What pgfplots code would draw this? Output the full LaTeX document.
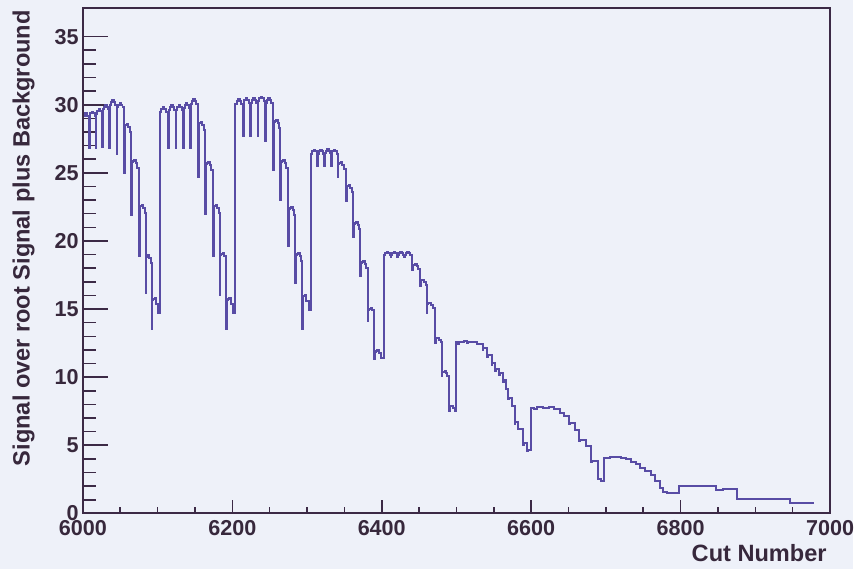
\documentclass[border=0pt]{standalone}
\usepackage{pgfplots}
\pgfplotsset{compat=1.18}
\usepackage{fontspec}
\setmainfont{Liberation Sans}
\definecolor{bgc}{RGB}{238,241,249}
\definecolor{linec}{RGB}{88,76,165}
\definecolor{framec}{RGB}{60,42,70}
\definecolor{textc}{RGB}{55,40,60}
\begin{document}
\begin{tikzpicture}
\fill[bgc] (-41.5pt,-28pt) rectangle (385.5pt,257pt);
\begin{axis}[
  at={(0,0)}, anchor=south west,
  width=374pt, height=253pt, scale only axis,
  xmin=6000, xmax=7000, ymin=0, ymax=37.1,
  axis line style={framec, line width=1.1pt},
  xtick=\empty,
  ytick={0,5,10,15,20,25,30,35},
  yticklabels={0,5,10,15,20,25,30,35},
  minor y tick num=4,
  tick pos=left, tick align=inside,
  major tick length=12.5pt, minor tick length=6.5pt,
  every tick/.style={framec, line width=0.8pt},
  yticklabel style={font=\fontsize{10.8}{12}\selectfont\bfseries, text=textc, inner sep=0pt, xshift=-2pt},
  scaled ticks=false,
  no marks,
]
\addplot[const plot, linec, line width=1pt] coordinates {
(6000,29.2) (6003,29.4) (6006,29.2)
(6008,26.8) (6009,29.15) (6010,29.36) (6012,29.5) (6014,29.36) (6016,29.15)
(6017,26.8) (6018,29.35) (6019,29.56) (6021,29.7) (6023,29.56) (6025,29.35)
(6026,26.9) (6027,29.65) (6028,29.86) (6030,30.0) (6032,29.86) (6034,29.65)
(6035,26.8) (6036,30.0) (6037,30.21) (6039,30.35) (6041,30.21) (6043,30.0)
(6045,26.4) (6046,29.8) (6047,30.01) (6049,30.15) (6051,30.01) (6053,29.8)
(6055,25.0) (6056,28.45) (6057,28.54) (6059,28.6) (6061,28.36) (6063,28.0)
(6065,21.9) (6066,25.8) (6067,25.89) (6069,25.95) (6071,25.71) (6073,25.35)
(6075,18.9) (6076,22.5) (6077,22.59) (6079,22.65) (6081,22.41) (6083,22.05)
(6084,16.2) (6085,18.85) (6086,18.94) (6088,19.0) (6089,18.76) (6091,18.4)
(6092,13.5) (6093,15.65) (6094,15.74) (6096,15.8) (6098,15.36) (6100,14.7)
(6103,29.45) (6105,29.66) (6107,29.8) (6109,29.66) (6111,29.45)
(6114,26.8) (6115,29.6) (6116,29.81) (6118,29.95) (6120,29.81) (6122,29.6)
(6124,26.8) (6125,29.6) (6126,29.81) (6128,29.95) (6130,29.81) (6132,29.6)
(6134,26.8) (6135,29.75) (6136,29.96) (6138,30.1) (6140,29.96) (6142,29.75)
(6144,26.8) (6145,30.05) (6146,30.26) (6148,30.4) (6150,30.26) (6152,30.05)
(6154,24.7) (6155,28.6) (6156,28.69) (6158,28.75) (6160,28.51) (6162,28.15)
(6164,22.0) (6165,25.65) (6166,25.74) (6168,25.8) (6170,25.56) (6172,25.2)
(6174,18.9) (6175,22.5) (6176,22.59) (6178,22.65) (6180,22.41) (6182,22.05)
(6183,16.05) (6184,18.95) (6185,19.04) (6187,19.1) (6189,18.86) (6191,18.5)
(6192,13.5) (6193,15.65) (6194,15.74) (6196,15.8) (6198,15.36) (6201,14.7)
(6204,30.05) (6206,30.26) (6208,30.4) (6210,30.26) (6212,30.05)
(6214,27.7) (6215,30.15) (6216,30.36) (6218,30.5) (6220,30.36) (6222,30.15)
(6224,27.7) (6225,30.15) (6226,30.36) (6228,30.5) (6230,30.36) (6232,30.15)
(6234,27.7) (6235,30.25) (6236,30.46) (6238,30.6) (6240,30.46) (6242,30.25)
(6244,27.3) (6245,30.15) (6246,30.36) (6248,30.5) (6250,30.36) (6252,30.15)
(6255,25.2) (6256,28.75) (6257,28.84) (6259,28.9) (6261,28.66) (6263,28.3)
(6264,23.0) (6265,25.8) (6266,25.89) (6268,25.95) (6270,25.71) (6272,25.35)
(6275,19.6) (6276,22.35) (6277,22.44) (6279,22.5) (6281,22.26) (6283,21.9)
(6284,16.9) (6285,18.95) (6286,19.04) (6288,19.1) (6290,18.86) (6292,18.5)
(6293,13.5) (6294,15.9) (6295,15.99) (6297,16.05) (6299,15.61) (6302,14.95)
(6305,26.4) (6307,26.58) (6309,26.7) (6311,26.58) (6313,26.4)
(6314,25.5) (6315,26.4) (6316,26.58) (6318,26.7) (6320,26.58) (6322,26.4)
(6323,25.5) (6324,26.45) (6325,26.63) (6327,26.75) (6329,26.63) (6331,26.45)
(6332,25.5) (6333,26.4) (6334,26.58) (6336,26.7) (6338,26.58) (6340,26.4)
(6341,24.7) (6342,25.65) (6343,25.74) (6345,25.8) (6347,25.6) (6349,25.3)
(6352,22.9) (6353,23.95) (6354,24.04) (6356,24.1) (6358,23.9) (6360,23.6)
(6362,20.3) (6363,21.25) (6364,21.34) (6366,21.4) (6368,21.2) (6370,20.9)
(6371,17.4) (6372,18.35) (6373,18.44) (6375,18.5) (6377,18.3) (6379,18.0)
(6381,14.1) (6382,14.95) (6383,15.04) (6385,15.1) (6387,14.9) (6389,14.6)
(6390,11.3) (6391,11.85) (6392,11.94) (6394,12.0) (6396,11.76) (6399,11.4)
(6403,19.0) (6405,19.12) (6407,19.2) (6409,19.12) (6411,19.0)
(6412,18.85) (6413,19.0) (6414,19.12) (6416,19.2) (6418,19.12) (6420,19.0)
(6421,18.85) (6422,19.0) (6423,19.12) (6425,19.2) (6427,19.12) (6429,19.0)
(6430,18.85) (6431,19.0) (6432,19.12) (6434,19.2) (6436,19.12) (6438,19.0)
(6441,17.9) (6442,18.2) (6443,18.26) (6445,18.3) (6447,18.16) (6449,17.95)
(6451,16.7) (6452,17.05) (6453,17.11) (6455,17.15) (6457,17.01) (6459,16.8)
(6460,14.7) (6461,15.35) (6462,15.41) (6464,15.45) (6466,15.31) (6468,15.1)
(6471,12.5) (6472,12.8) (6473,12.86) (6475,12.9) (6477,12.76) (6479,12.55)
(6480,10.1) (6481,10.35) (6482,10.41) (6484,10.45) (6486,10.31) (6488,10.1)
(6490,7.55) (6491,7.8) (6492,7.86) (6494,7.9) (6496,7.76) (6498,7.55)
(6500,12.55) (6502,12.45) (6504,12.6) (6510,12.65) (6514,12.5) (6516,12.6) (6522,12.55) (6527,12.4) (6530,12.45)
(6535,12.0) (6536,12.15) (6541,11.5) (6542,11.65) (6547,10.9) (6548,11.05) (6552,10.45) (6553,10.6)
(6557,10.15) (6558,10.3) (6562,9.65) (6563,9.8) (6566,9.1) (6569,8.4) (6570,8.5) (6574,7.9)
(6578,6.55) (6579,6.7) (6583,6.2) (6589,5.05) (6590,5.2) (6595,4.55) (6596,4.65)
(6600,7.75) (6604,7.7) (6608,7.8) (6616,7.75) (6624,7.8) (6630,7.7)
(6638,7.4) (6644,7.15) (6651,6.55) (6652,6.65) (6658,6.15) (6664,5.3) (6665,5.4)
(6673,4.95) (6680,3.75) (6681,3.85) (6689,2.5) (6693,2.35)
(6697,4.1) (6703,4.05) (6706,4.15) (6720,4.1) (6727,4.0) (6733,3.8) (6740,3.6) (6746,3.35)
(6752,3.1) (6760,2.85) (6766,2.4) (6772,1.9) (6776,1.6) (6782,1.5)
(6798,2.0) (6847,1.75) (6857,1.8) (6876,1.03) (6947,0.8) (6978,0.8)
};
\end{axis}
\begin{axis}[
  at={(0,0)}, anchor=south west,
  width=374pt, height=253pt, scale only axis,
  xmin=6000, xmax=7000, ymin=0, ymax=37.1,
  axis line style={framec, line width=1.1pt},
  ytick=\empty,
  xtick={6000,6200,6400,6600,6800,7000},
  xticklabels={6000,6200,6400,6600,6800,7000},
  minor x tick num=3,
  tick pos=left, tick align=inside,
  major tick length=6.5pt, minor tick length=3.3pt,
  every tick/.style={framec, line width=0.8pt},
  xticklabel style={font=\fontsize{10.8}{12}\selectfont\bfseries, text=textc, inner sep=0pt, yshift=-3.5pt},
  scaled ticks=false,
]
\end{axis}
\node[rotate=90, anchor=south east, inner sep=0pt, text=textc, font=\fontsize{11.8}{13}\selectfont\bfseries] at (-24pt,252pt) {Signal over root Signal plus Background};
\node[anchor=north east, inner sep=0pt, text=textc, font=\fontsize{11.8}{13}\selectfont\bfseries] at (372.5pt,-15.5pt) {Cut Number};
\end{tikzpicture}
\end{document}
